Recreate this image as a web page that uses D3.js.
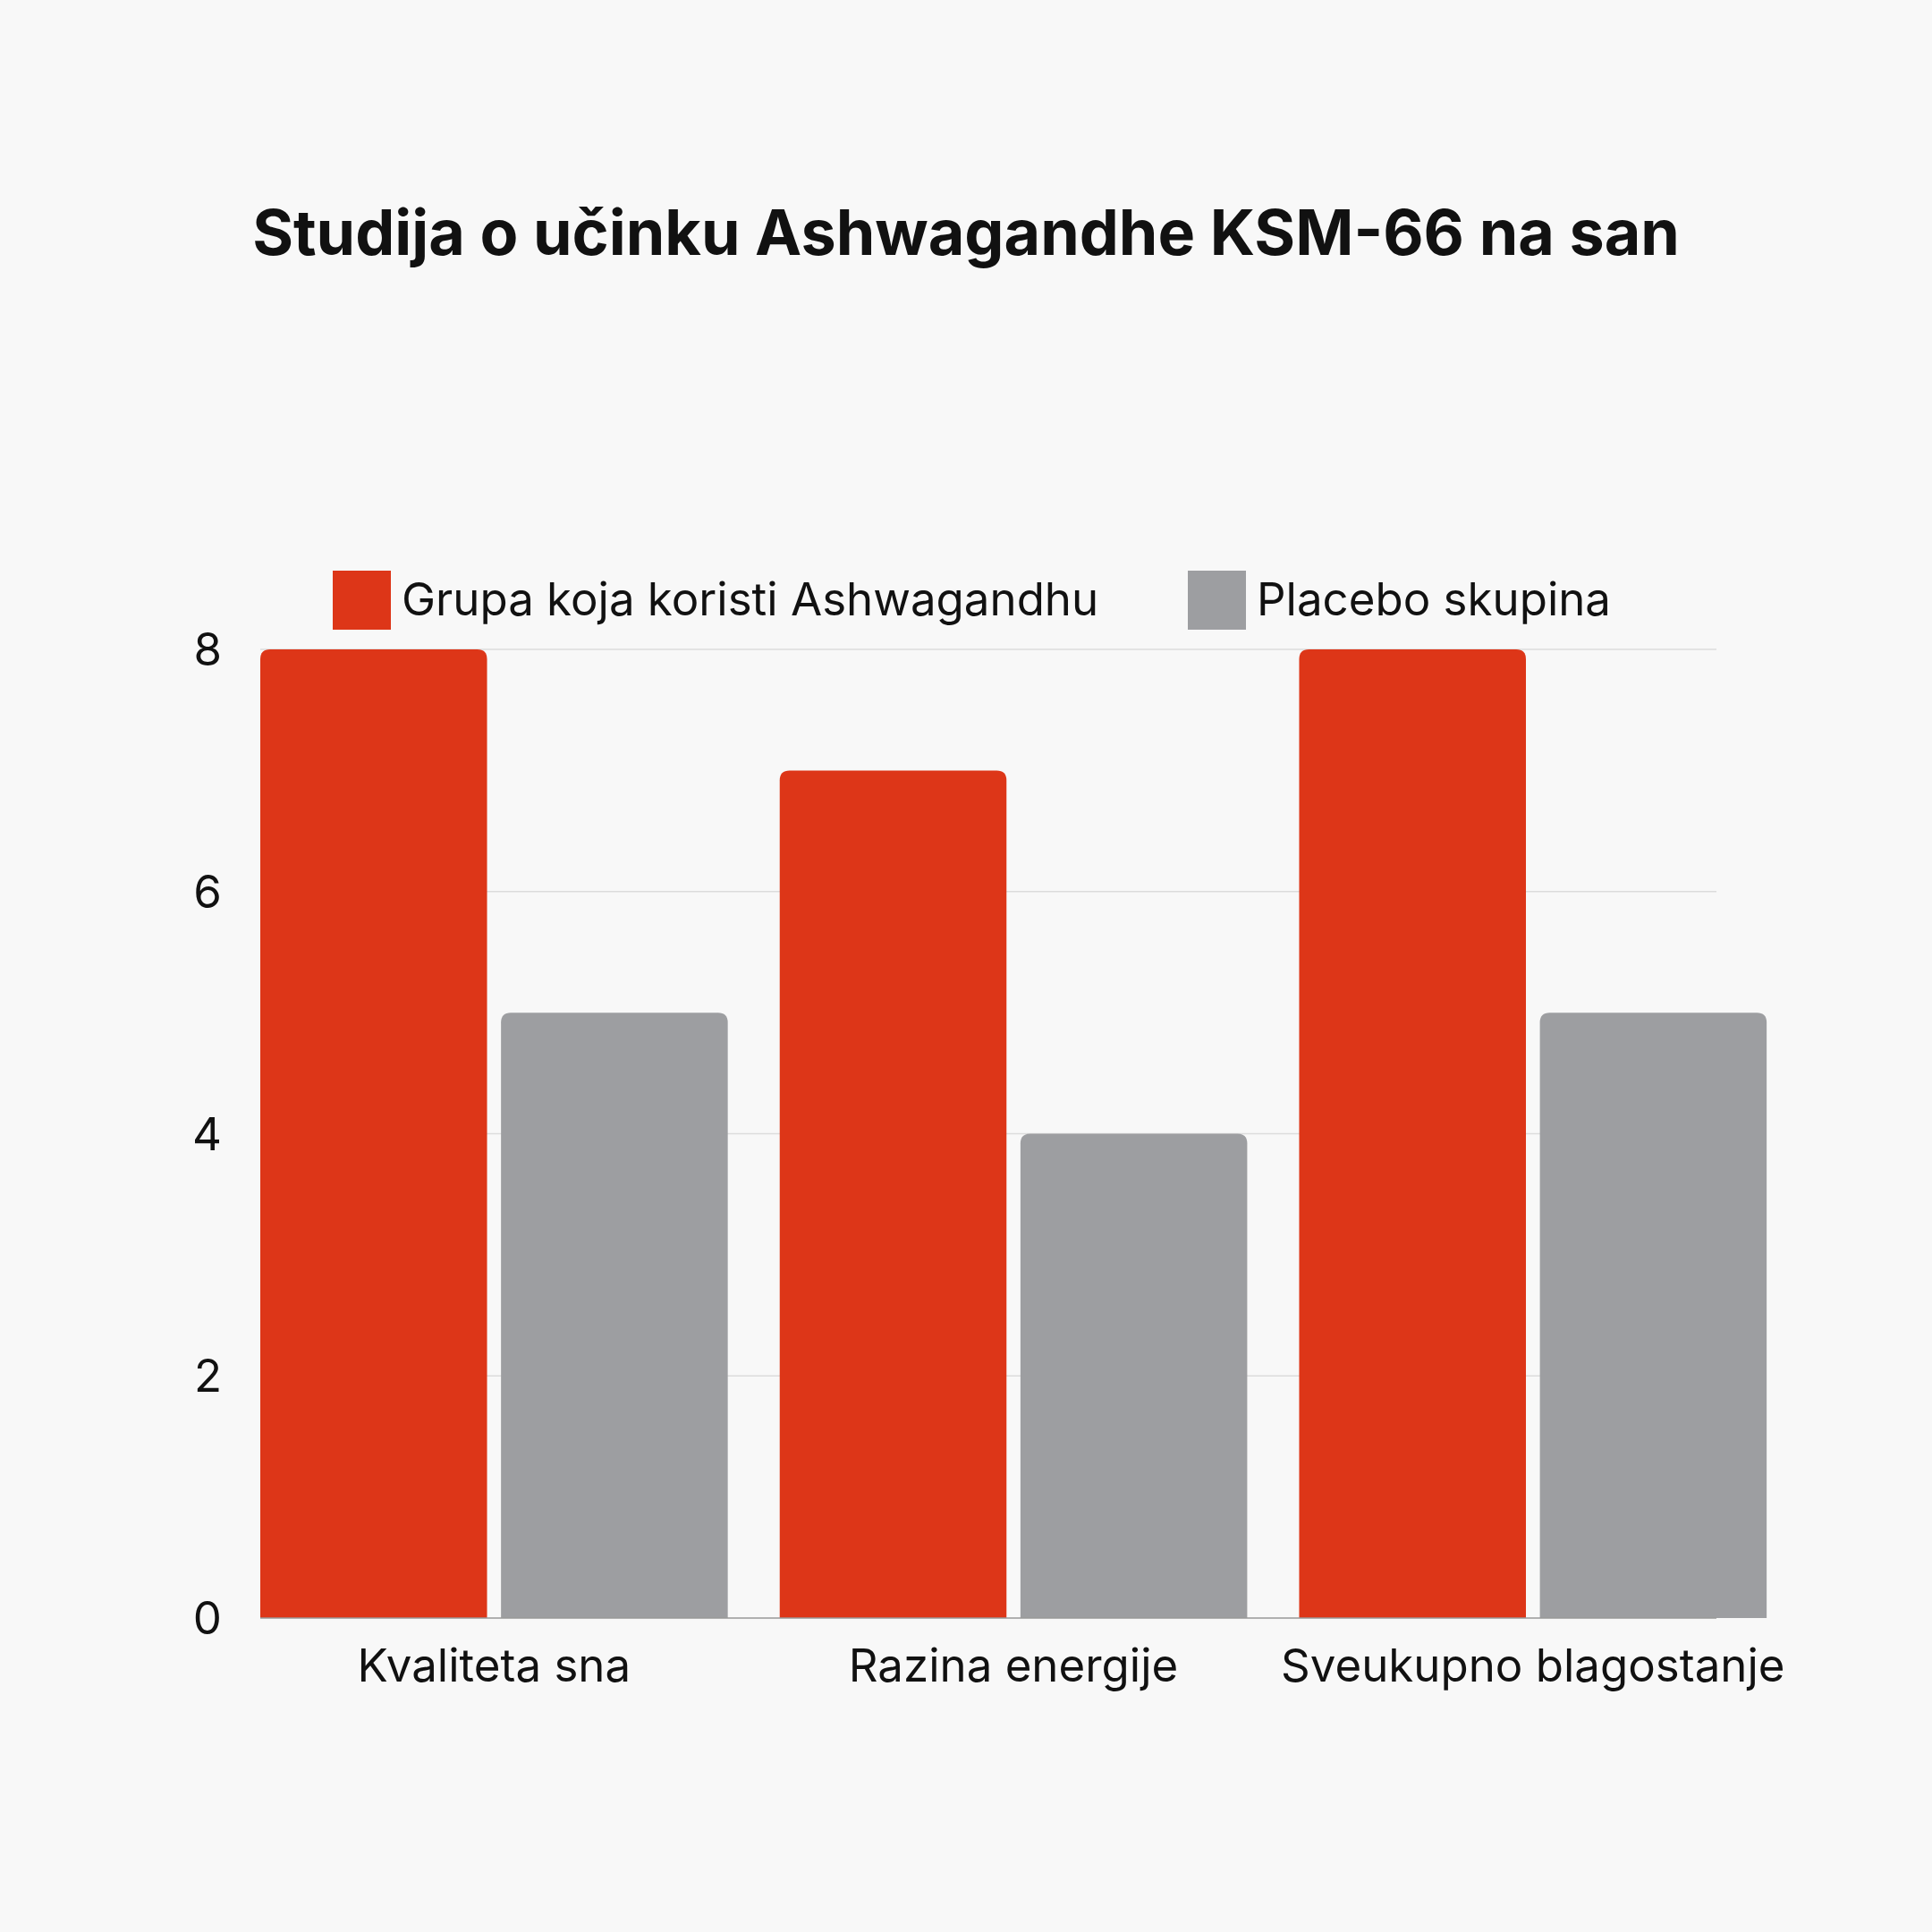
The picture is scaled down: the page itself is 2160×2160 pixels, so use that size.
<!DOCTYPE html>
<html><head><meta charset="utf-8">
<script src="https://cdn.jsdelivr.net/npm/d3@7"></script>
<style>body{margin:0;background:#f8f8f8}</style>
</head><body>
<svg id="c" width="2160" height="2160"></svg>
<script>
const categories = ["Kvaliteta sna","Razina energije","Sveukupno blagostanje"];
const seriesNames = ["Grupa koja koristi Ashwagandhu","Placebo skupina"];
const ashwagandha = [8,7,8];
const placebo = [5,4,5];
const yTicks = [0,2,4,6,8];
const colors = ["#dd3618","#9d9ea1"];

const svg = d3.select("#c");
svg.append("rect").attr("width",2160).attr("height",2160).attr("fill","#f8f8f8");
const font = "Inter, 'Noto Sans', sans-serif";
const L=291, R=1919, T=726, B=1809;
const y = d3.scaleLinear().domain([0,8]).range([B,T]);
const x0 = d3.scaleBand().domain(categories).range([L,R+ (R-L)*0.1/2.9]).paddingInner(0.1).paddingOuter(0);
const x1 = d3.scaleBand().domain(seriesNames).range([0,x0.bandwidth()]).paddingInner(0.058);

svg.append("text").attr("x",1080).attr("y",285).attr("text-anchor","middle")
  .attr("font-family",font).attr("font-weight",700).attr("font-size",70).attr("fill","#111")
  .text("Studija o učinku Ashwagandhe KSM-66 na san");

svg.append("g").selectAll("line").data(yTicks.slice(1)).join("line")
  .attr("x1",L).attr("x2",R).attr("y1",d=>y(d)).attr("y2",d=>y(d))
  .attr("stroke","#dcdcdc").attr("stroke-width",1.5);
svg.append("g").selectAll("text").data(yTicks).join("text")
  .attr("x",248).attr("y",d=>y(d)+18).attr("text-anchor","end")
  .attr("font-family",font).attr("font-size",51).attr("fill","#111").text(d=>d);

const data = categories.map((c,i)=>({c, vals:[ashwagandha[i],placebo[i]]}));
const r=11;
function barPath(x,w,yt,yb){
  return `M${x},${yb}V${yt+r}Q${x},${yt} ${x+r},${yt}H${x+w-r}Q${x+w},${yt} ${x+w},${yt+r}V${yb}Z`;
}
data.forEach(d=>{
  d.vals.forEach((v,j)=>{
    const bx = x0(d.c)+x1(seriesNames[j]);
    svg.append("path").attr("d",barPath(bx,x1.bandwidth(),y(v),y(0))).attr("fill",colors[j]);
  });
  svg.append("text").attr("x",x0(d.c)+x0.bandwidth()/2).attr("y",1880).attr("text-anchor","middle")
    .attr("font-family",font).attr("font-size",51).attr("fill","#111").text(d.c);
});
svg.append("line").attr("x1",L).attr("x2",R).attr("y1",B).attr("y2",B).attr("stroke","#999").attr("stroke-width",1.5);

const legX=[372,1328];
seriesNames.forEach((s,j)=>{
  svg.append("rect").attr("x",legX[j]).attr("y",638).attr("width",65).attr("height",66).attr("fill",colors[j]);
  svg.append("text").attr("x",legX[j]+77).attr("y",688).attr("font-family",font).attr("font-size",51)
    .attr("fill","#111").text(s);
});
</script>
</body></html>
